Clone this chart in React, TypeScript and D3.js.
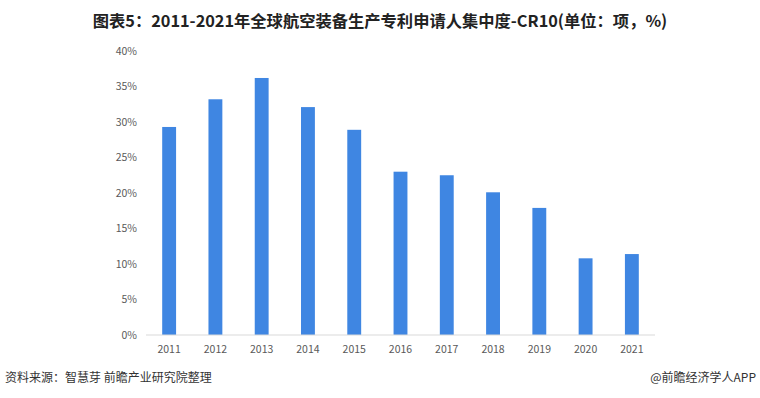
import { FC, useMemo } from 'react';
import * as d3 from 'd3';

const years = ['2011', '2012', '2013', '2014', '2015', '2016', '2017', '2018', '2019', '2020', '2021'];
const cr10 = [29.3, 33.2, 36.2, 32.1, 28.9, 23.0, 22.5, 20.1, 17.9, 10.8, 11.4];
const yTicks = [0, 5, 10, 15, 20, 25, 30, 35, 40];

const WIDTH = 760;
const HEIGHT = 398;
const MARGIN = { top: 51, right: 105, bottom: 63, left: 146 };
const FONT = '"Noto Sans CJK SC", "Noto Sans", sans-serif';

const App: FC = () => {
  const boundsWidth = WIDTH - MARGIN.left - MARGIN.right;
  const boundsHeight = HEIGHT - MARGIN.top - MARGIN.bottom;

  const xScale = useMemo(
    () => d3.scaleBand().domain(years).range([0, boundsWidth]).paddingInner(0.7).paddingOuter(0.35),
    [boundsWidth]
  );
  const yScale = useMemo(
    () => d3.scaleLinear().domain([0, 40]).range([boundsHeight, 0]),
    [boundsHeight]
  );

  return (
    <svg width={WIDTH} height={HEIGHT} style={{ position: 'absolute', left: 0, top: 0, background: '#fff' }}>
      <text x={380} y={27} textAnchor="middle" fontFamily={FONT} fontSize={16.3} fontWeight="bold" fill="#222">
        图表5：2011-2021年全球航空装备生产专利申请人集中度-CR10(单位：项，%)
      </text>
      <g transform={`translate(${MARGIN.left},${MARGIN.top})`}>
        {yTicks.map((t) => (
          <text key={t} x={-9} y={yScale(t)} dy="0.35em" textAnchor="end" fontFamily={FONT} fontSize={10.5} fill="#595959">
            {t}%
          </text>
        ))}
        {years.map((y, i) => (
          <rect
            key={y}
            x={xScale(y)}
            y={yScale(cr10[i])}
            width={xScale.bandwidth()}
            height={boundsHeight - yScale(cr10[i])}
            fill="#3f86e2"
          />
        ))}
        <line x1={0} x2={boundsWidth} y1={boundsHeight} y2={boundsHeight} stroke="#d9d9d9" strokeWidth={1} />
        {years.map((y) => (
          <text
            key={y}
            x={(xScale(y) ?? 0) + xScale.bandwidth() / 2}
            y={boundsHeight + 18}
            textAnchor="middle"
            fontFamily={FONT}
            fontSize={10.5}
            fill="#595959"
          >
            {y}
          </text>
        ))}
      </g>
      <text x={5} y={382} fontFamily={FONT} fontSize={12} fill="#333">
        资料来源：智慧芽 前瞻产业研究院整理
      </text>
      <text x={756} y={382} textAnchor="end" fontFamily={FONT} fontSize={12} fill="#333">
        @前瞻经济学人APP
      </text>
    </svg>
  );
};

export default App;
